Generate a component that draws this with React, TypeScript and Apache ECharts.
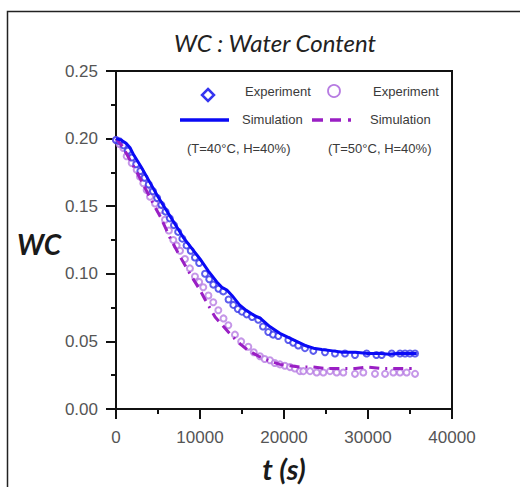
import React, { useEffect, useRef } from "react";
import * as echarts from "echarts";

const titleText = "WC : Water Content";
const xTicks = [0, 10000, 20000, 30000, 40000];
const yTicks = [0, 0.05, 0.1, 0.15, 0.2, 0.25];

// Simulation, T=40°C, H=40%  [t (s), WC]
const sim40: [number, number][] = [
  [0, 0.2], [600, 0.199], [1200, 0.1965], [1700, 0.193], [2100, 0.188], [3000, 0.179],
  [4000, 0.168], [5000, 0.157], [6000, 0.147], [7000, 0.137], [8000, 0.127], [9000, 0.119],
  [10000, 0.111], [11000, 0.102], [12000, 0.094], [12600, 0.09], [13200, 0.088], [13800, 0.084],
  [14700, 0.077], [15500, 0.073], [16500, 0.069], [17200, 0.067], [18300, 0.061], [19500, 0.056],
  [20500, 0.053], [21500, 0.05], [22500, 0.047], [23500, 0.045], [24500, 0.044], [25800, 0.043],
  [27000, 0.042], [28500, 0.042], [30000, 0.041], [31500, 0.041], [32500, 0.0405], [33500, 0.041],
  [34500, 0.041], [35800, 0.041],
];

// Simulation, T=50°C, H=40%
const sim50: [number, number][] = [
  [0, 0.2], [800, 0.194], [1500, 0.186], [2500, 0.175], [3500, 0.163], [4500, 0.151],
  [5300, 0.142], [6400, 0.127], [7600, 0.113], [8800, 0.1], [10000, 0.088], [10600, 0.081],
  [11800, 0.068], [12800, 0.061], [13800, 0.054], [14800, 0.048], [15800, 0.043], [17000, 0.039],
  [18100, 0.036], [19500, 0.033], [20700, 0.032], [22000, 0.031], [23500, 0.031], [25000, 0.03],
  [26500, 0.03], [28500, 0.03], [30000, 0.031], [31500, 0.03], [33000, 0.03], [34500, 0.03],
  [35200, 0.03],
];

// Experiment, T=40°C, H=40%
const exp40: [number, number][] = [
  [0, 0.199], [400, 0.198], [900, 0.195], [1400, 0.191], [1900, 0.186], [2400, 0.181],
  [2900, 0.176], [3400, 0.171], [3900, 0.166], [4400, 0.161], [4900, 0.156], [5400, 0.151],
  [5900, 0.146], [6400, 0.141], [6900, 0.136], [7400, 0.131], [7900, 0.126], [8400, 0.121],
  [8900, 0.117], [9400, 0.112], [9900, 0.108], [10600, 0.1], [11100, 0.096], [11580, 0.092],
  [12200, 0.089], [12770, 0.087], [13400, 0.081], [13970, 0.077], [14500, 0.074], [15000, 0.072],
  [15550, 0.07], [16200, 0.068], [16940, 0.066], [17500, 0.061], [18130, 0.057], [18700, 0.055],
  [19320, 0.054], [20520, 0.051], [21100, 0.049], [21700, 0.047], [22500, 0.045], [23490, 0.043],
  [24880, 0.042], [26070, 0.041], [27260, 0.041], [28450, 0.04], [29840, 0.041], [31000, 0.04],
  [31630, 0.04], [32820, 0.041], [33810, 0.041], [34410, 0.041], [35000, 0.041], [35600, 0.041],
];

// Experiment, T=50°C, H=40%
const exp50: [number, number][] = [
  [0, 0.199], [400, 0.196], [870, 0.193], [1270, 0.187], [1870, 0.182], [2460, 0.177],
  [2850, 0.172], [3250, 0.167], [3650, 0.162], [4050, 0.157], [4650, 0.152], [5240, 0.147],
  [5830, 0.14], [6300, 0.132], [6820, 0.125], [7220, 0.121], [7620, 0.117], [8210, 0.111],
  [8800, 0.104], [9400, 0.098], [9900, 0.094], [10390, 0.09], [11000, 0.084], [11580, 0.079],
  [12180, 0.073], [12800, 0.067], [13370, 0.062], [14160, 0.055], [14900, 0.05], [15750, 0.046],
  [16400, 0.042], [17140, 0.039], [17700, 0.037], [18330, 0.036], [18900, 0.034], [19520, 0.033],
  [20100, 0.032], [20710, 0.031], [21300, 0.03], [21900, 0.028], [22300, 0.028], [23100, 0.028],
  [23890, 0.027], [24680, 0.027], [25480, 0.028], [26270, 0.027], [27060, 0.027], [28450, 0.026],
  [29440, 0.027], [30830, 0.026], [32030, 0.026], [33020, 0.027], [33810, 0.027], [34600, 0.027],
  [35600, 0.026],
];

const legendExp = "Experiment";
const legendSim = "Simulation";
const cond40 = "(T=40°C, H=40%)";
const cond50 = "(T=50°C, H=40%)";

const BLUE = "#0a0af5";
const BLUE_MK = "#3535e8";
const PURPLE = "#9a1fc4";
const PURPLE_MK = "#b77ce2";
const DASH = [10, 6, 10, 6, 2, 6];

export default function App() {
  const ref = useRef<HTMLDivElement>(null);
  useEffect(() => {
    if (!ref.current) return;
    const chart = echarts.init(ref.current, null, { renderer: "svg" });
    const legText = { fontFamily: "Arial, 'Liberation Sans', sans-serif", fontSize: 13, fill: "#3a3a3a" };
    chart.setOption({
      animation: false,
      backgroundColor: "#ffffff",
      grid: {
        left: 116, right: 68, top: 71, bottom: 78,
        containLabel: false, outerBoundsMode: "none",
        show: true, borderColor: "#111", borderWidth: 2,
      },
      xAxis: {
        type: "value",
        min: xTicks[0],
        max: xTicks[xTicks.length - 1],
        interval: 10000,
        splitLine: { show: false },
        axisLine: { lineStyle: { color: "#111", width: 2 } },
        axisTick: { inside: false, length: 10, lineStyle: { color: "#111", width: 2 } },
        minorTick: { show: true, splitNumber: 2, length: 5, lineStyle: { color: "#111", width: 2 } },
        axisLabel: {
          color: "#555", fontSize: 17, fontFamily: "Arial, 'Liberation Sans', sans-serif", margin: 20,
          formatter: (v: number) => String(v),
        },
        name: "t (s)",
        nameLocation: "middle",
        nameGap: 45,
        nameTextStyle: { fontFamily: "Lato, sans-serif", fontStyle: "italic", fontWeight: "bold", fontSize: 29, color: "#1a1a1a", lineHeight: 29 },
      },
      yAxis: {
        type: "value",
        min: yTicks[0],
        max: yTicks[yTicks.length - 1],
        interval: 0.05,
        splitLine: { show: false },
        axisLine: { show: true, lineStyle: { color: "#111", width: 2 } },
        axisTick: { show: true, inside: false, length: 10, lineStyle: { color: "#111", width: 2 } },
        minorTick: { show: true, splitNumber: 2, length: 5, lineStyle: { color: "#111", width: 2 } },
        axisLabel: {
          color: "#555", fontSize: 17, fontFamily: "Arial, 'Liberation Sans', sans-serif", margin: 18,
          formatter: (v: number) => v.toFixed(2),
        },
      },
      series: [
        {
          type: "scatter", data: exp50, symbol: "emptyCircle", symbolSize: 6,
          itemStyle: { color: PURPLE_MK, borderColor: PURPLE_MK, borderWidth: 1.5 }, z: 2,
        },
        {
          type: "scatter", data: exp40, symbol: "emptyCircle", symbolSize: 6,
          itemStyle: { color: BLUE_MK, borderColor: BLUE_MK, borderWidth: 1.6 }, z: 3,
        },
        {
          type: "line", data: sim50, showSymbol: false, symbol: "none",
          lineStyle: { color: PURPLE, width: 3, type: DASH }, z: 4,
        },
        {
          type: "line", data: sim40, showSymbol: false, symbol: "none",
          lineStyle: { color: BLUE, width: 3 }, z: 5,
        },
      ],
      graphic: [
        { type: "rect", shape: { x: 7.5, y: 11.5, width: 700, height: 700 }, style: { fill: "none", stroke: "#222", lineWidth: 1.5 }, silent: true },
        {
          type: "text", x: 275, y: 42,
          style: { text: titleText, fontFamily: "Lato, sans-serif", fontStyle: "italic", fontSize: 24, fill: "#222", textAlign: "center", textVerticalAlign: "middle" },
        },
        {
          type: "text", x: 39, y: 244,
          style: { text: "WC", fontFamily: "Lato, sans-serif", fontStyle: "italic", fontWeight: "bold", fontSize: 28, fill: "#1a1a1a", textAlign: "center", textVerticalAlign: "middle" },
        },
        // legend row 1
        {
          type: "polygon", shape: { points: [[208, 89], [214, 95], [208, 101], [202, 95]] },
          style: { fill: "none", stroke: "#3535f0", lineWidth: 2.5 },
        },
        { type: "text", x: 245, y: 91, style: { ...legText, text: legendExp, textVerticalAlign: "middle" } },
        { type: "circle", shape: { cx: 334, cy: 91, r: 6 }, style: { fill: "none", stroke: PURPLE_MK, lineWidth: 1.8 } },
        { type: "text", x: 373, y: 91, style: { ...legText, text: legendExp, textVerticalAlign: "middle" } },
        // legend row 2
        { type: "line", shape: { x1: 180, y1: 120, x2: 229, y2: 120 }, style: { stroke: BLUE, lineWidth: 3.5 } },
        { type: "text", x: 242, y: 119, style: { ...legText, text: legendSim, textVerticalAlign: "middle" } },
        { type: "line", shape: { x1: 312, y1: 120, x2: 360, y2: 120 }, style: { stroke: PURPLE, lineWidth: 3.5, lineDash: [11, 7, 11, 7, 3, 50] } },
        { type: "text", x: 370, y: 119, style: { ...legText, text: legendSim, textVerticalAlign: "middle" } },
        // legend row 3
        { type: "text", x: 187, y: 148, style: { ...legText, text: cond40, textVerticalAlign: "middle" } },
        { type: "text", x: 328, y: 148, style: { ...legText, text: cond50, textVerticalAlign: "middle" } },
      ],
    });
    return () => chart.dispose();
  }, []);
  return (
    <div
      ref={ref}
      style={{ position: "fixed", left: 0, top: 0, width: 520, height: 487, background: "#fff" }}
    />
  );
}
